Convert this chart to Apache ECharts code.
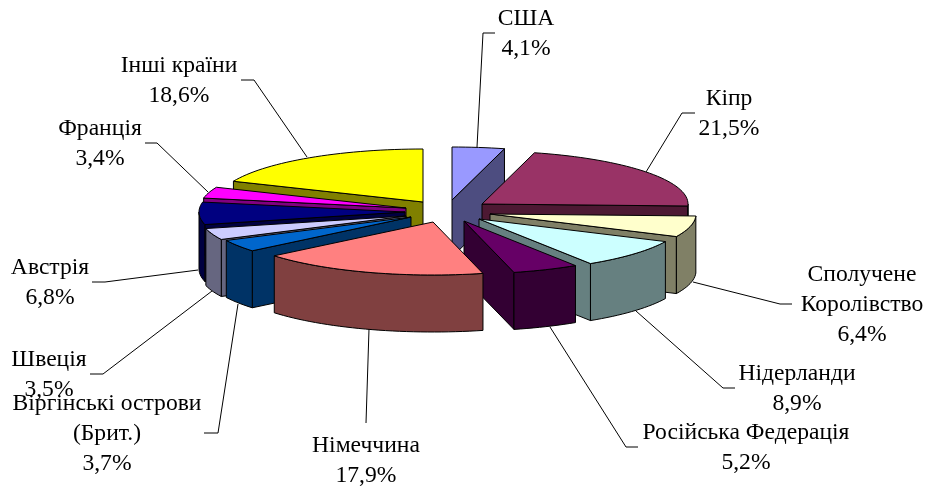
<!DOCTYPE html>
<html>
<head>
<meta charset="utf-8">
<script src="https://cdn.jsdelivr.net/npm/echarts@6/dist/echarts.min.js"></script>
<style>
  html, body { margin: 0; padding: 0; background: #fff; }
  #chart { width: 928px; height: 486px; }
</style>
</head>
<body>
<div id="chart"></div>
<script>
// Data, clockwise from 12 o'clock
const categories = ['США', 'Кіпр', 'Сполучене\nКоролівство', 'Нідерланди', 'Російська Федерація', 'Німеччина',
  'Віргінські острови\n(Брит.)', 'Швеція', 'Австрія', 'Франція', 'Інші країни']
const shares = [4.1, 21.5, 6.4, 8.9, 5.2, 17.9, 3.7, 3.5, 6.8, 3.4, 18.6]

// Colours
const topColors = ['#9999FF', '#993366', '#FFFFCC', '#CCFFFF', '#660066', '#FF8080', '#0066CC', '#CCCCFF', '#000080', '#FF00FF', '#FFFF00']
const sideColors = ['#4D4D80', '#4D1933', '#808066', '#668080', '#330033', '#804040', '#003366', '#666680', '#000040', '#800080', '#808000']

// Layout of the exploded pie
const centerX = 430
const centerY = 212
const radiusX = 206
const radiusY = 53
const depth = 57
const explodeOffsets = [[22, -12], [52, -8], [60, 2], [49, 7], [34, 9], [3, 10], [-19, 5], [-24, 4], [-25, 0], [-24, -4], [-7, -10]]
const drawOrder = [0, 10, 1, 2, 9, 8, 7, 3, 6, 4, 5]

// Label block centres and leader lines
const labelCenters = [[526, 34], [729, 114], [862, 305], [797, 389], [746, 448], [366, 461], [107, 434], [49, 375], [50, 283], [100, 144], [179, 81]]
const leaderLines = [
  [[495, 33], [483, 33], [477, 147]],
  [[695, 113], [682, 113], [646, 172]],
  [[792, 304], [780, 304], [693, 282]],
  [[735, 388], [723, 388], [636, 311]],
  [[638, 447], [626, 447], [550, 327]],
  [[366, 423], [369, 329]],
  [[204, 433], [218, 433], [238, 304]],
  [[90, 374], [103, 374], [212, 291]],
  [[92, 282], [105, 282], [198, 270]],
  [[145, 143], [157, 143], [208, 192]],
  [[241, 80], [254, 80], [307, 157]]
]

const TO_RAD = Math.PI / 180
const edgeStyle = { stroke: '#000', lineWidth: 1, lineJoin: 'round' }

/** Start and end angle of a slice, in degrees */
function sliceAngles(i) {
  const total = shares.reduce((a, b) => a + b, 0)
  const before = shares.slice(0, i).reduce((a, b) => a + b, 0)
  return [before / total * 360, (before + shares[i]) / total * 360]
}

function rimPoint(apex, deg, drop) {
  return [apex[0] + radiusX * Math.sin(deg * TO_RAD), apex[1] - radiusY * Math.cos(deg * TO_RAD) + drop]
}

function arcPoints(apex, from, to, drop) {
  const pts = []
  const steps = Math.max(2, Math.ceil((to - from) / 2))
  for (let k = 0; k <= steps; k++) pts.push(rimPoint(apex, from + (to - from) * k / steps, drop))
  return pts
}

function polygon(points, fill, z2) {
  return { type: 'polygon', z2, shape: { points }, style: { fill, ...edgeStyle } }
}

function renderSlice(params, api) {
  const i = api.value(0)
  const [start, end] = sliceAngles(i)
  const apex = [centerX + explodeOffsets[i][0], centerY + explodeOffsets[i][1]]
  const side = sideColors[i]
  const children = []

  const radialFace = deg => {
    const rim = rimPoint(apex, deg, 0)
    return polygon([apex, rim, [rim[0], rim[1] + depth], [apex[0], apex[1] + depth]], side, 1)
  }
  // only the cut faces turned to the viewer
  if (Math.sin(start * TO_RAD) < 0) children.push(radialFace(start))
  if (Math.sin(end * TO_RAD) > 0) children.push(radialFace(end))

  // rim, the front half of the ellipse only
  const rimFrom = Math.max(start, 90)
  const rimTo = Math.min(end, 270)
  if (rimFrom < rimTo) {
    children.push(polygon(
      arcPoints(apex, rimFrom, rimTo, 0).concat(arcPoints(apex, rimFrom, rimTo, depth).reverse()), side, 2))
  }

  children.push(polygon([apex].concat(arcPoints(apex, start, end, 0)), topColors[i], 3))
  return { type: 'group', children }
}

function renderLabel(params, api) {
  const i = api.value(0)
  const pct = shares[i].toFixed(1).replace('.', ',') + '%'
  return {
    type: 'group',
    children: [
      { type: 'polyline', shape: { points: leaderLines[i] }, style: { stroke: '#000', lineWidth: 1, fill: null } },
      {
        type: 'text',
        x: labelCenters[i][0],
        y: labelCenters[i][1],
        style: {
          text: categories[i] + '\n' + pct,
          fill: '#000',
          font: '23.6px "Liberation Serif", "Times New Roman", serif',
          lineHeight: 30,
          align: 'center',
          verticalAlign: 'middle'
        }
      }
    ]
  }
}

const chart = echarts.init(document.getElementById('chart'), null, { renderer: 'canvas' })
chart.setOption({
  animation: false,
  backgroundColor: '#fff',
  series: [
    {
      type: 'custom',
      coordinateSystem: 'none',
      z: 2,
      renderItem: renderLabel,
      data: shares.map((v, i) => [i, v])
    },
    {
      type: 'custom',
      coordinateSystem: 'none',
      z: 3,
      renderItem: renderSlice,
      data: drawOrder.map(i => [i, shares[i]])
    }
  ]
})
</script>
</body>
</html>
